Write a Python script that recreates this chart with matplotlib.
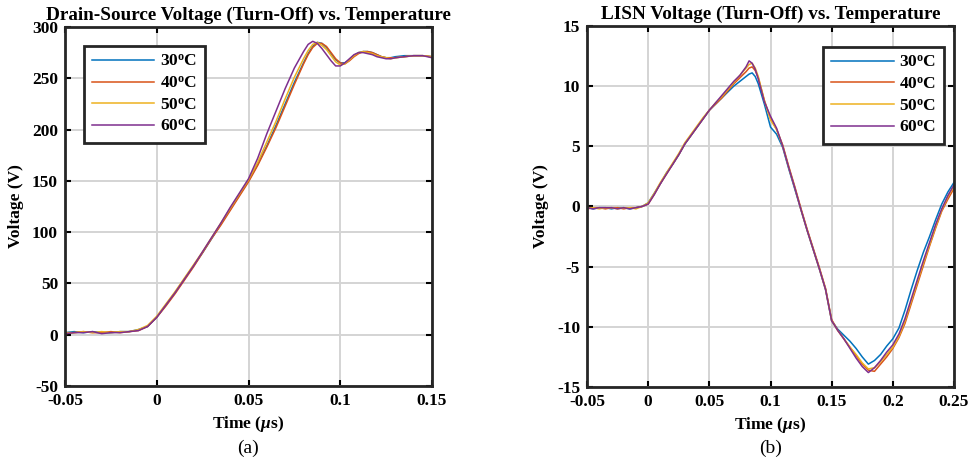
import matplotlib
matplotlib.use("Agg")
import matplotlib.pyplot as plt

plt.rcParams['font.family'] = ['Liberation Serif', 'DejaVu Serif']
plt.rcParams['font.weight'] = 'bold'
plt.rcParams['mathtext.fontset'] = 'custom'
plt.rcParams['mathtext.rm'] = 'Liberation Serif:bold'
plt.rcParams['mathtext.bf'] = 'Liberation Serif:bold'
plt.rcParams['mathtext.it'] = 'Liberation Serif:bold:italic'

# ---------------- data ----------------
series_labels = ["30$^{\\mathbf{o}}$C", "40$^{\\mathbf{o}}$C", "50$^{\\mathbf{o}}$C", "60$^{\\mathbf{o}}$C"]
colors = ["#0072BD", "#D95319", "#EDB120", "#7E2F8E"]

# (a) Drain-source voltage
t_a = [-0.05, -0.045, -0.04, -0.035, -0.03, -0.025, -0.02, -0.015, -0.01, -0.005,
       0.0, 0.005, 0.01, 0.015, 0.02, 0.025, 0.03, 0.035, 0.04, 0.045,
       0.05, 0.055, 0.06, 0.065, 0.07, 0.075, 0.08, 0.0825, 0.085, 0.0875,
       0.09, 0.0925, 0.095, 0.0975, 0.1, 0.1025, 0.105, 0.1075, 0.11, 0.1125,
       0.115, 0.1175, 0.12, 0.1225, 0.125, 0.1275, 0.13, 0.135, 0.14, 0.145, 0.15]
vds_30 = [2, 3, 2, 3, 2, 2, 3, 3, 5, 8,
          17, 29, 41, 54, 67, 80, 94, 108, 122, 136,
          150, 166, 184, 204, 225, 246, 265, 274, 281, 285,
          284, 280, 274, 268, 265, 265, 268, 272, 275, 276,
          276, 275, 273, 271, 270, 270, 271, 272, 272, 272, 271]
vds_40 = [1, 2, 3, 2, 2, 3, 2, 3, 4, 8,
          17, 28, 40, 53, 66, 80, 94, 107, 121, 135,
          149, 165, 183, 202, 223, 244, 264, 273, 280, 284,
          284, 281, 275, 269, 265, 264, 267, 271, 274, 276,
          276, 275, 273, 271, 270, 270, 270, 271, 272, 272, 271]
vds_50 = [2, 2, 3, 2, 3, 2, 3, 3, 5, 9,
          18, 30, 42, 55, 68, 81, 95, 109, 123, 137,
          151, 168, 188, 208, 230, 251, 269, 277, 283, 285,
          282, 278, 272, 266, 263, 264, 268, 272, 275, 276,
          275, 274, 272, 271, 270, 269, 270, 271, 272, 272, 271]
vds_60 = [1, 2, 2, 3, 1, 2, 2, 3, 4, 8,
          17, 29, 41, 54, 67, 81, 95, 109, 124, 138,
          152, 172, 196, 218, 240, 260, 276, 283, 286, 284,
          279, 273, 267, 262, 262, 265, 269, 273, 275, 275,
          274, 273, 271, 270, 269, 269, 270, 271, 272, 272, 270]

# (b) LISN voltage
t_b = [-0.05, -0.045, -0.04, -0.035, -0.03, -0.025, -0.02, -0.015, -0.01, -0.005,
       0.0, 0.005, 0.01, 0.015, 0.02, 0.025, 0.03, 0.035, 0.04, 0.045,
       0.05, 0.055, 0.06, 0.065, 0.07, 0.075, 0.08, 0.0825, 0.085, 0.0875,
       0.09, 0.095, 0.1, 0.105, 0.11, 0.115, 0.12, 0.125, 0.13, 0.135,
       0.14, 0.145, 0.15, 0.155, 0.16, 0.165, 0.17, 0.175, 0.18, 0.185,
       0.19, 0.195, 0.2, 0.205, 0.21, 0.215, 0.22, 0.225, 0.23, 0.235,
       0.24, 0.245, 0.25]
lisn_30 = [-0.1, -0.2, -0.1, -0.1, -0.2, -0.1, -0.1, -0.2, -0.1, 0.0,
           0.3, 1.1, 1.9, 2.8, 3.5, 4.3, 5.2, 5.9, 6.6, 7.3,
           8.0, 8.5, 9.0, 9.5, 10.0, 10.4, 10.8, 11.0, 11.1, 10.8,
           10.2, 8.5, 6.6, 6.0, 4.9, 3.1, 1.4, -0.3, -2.0, -3.6,
           -5.2, -6.9, -9.5, -10.2, -10.7, -11.2, -11.8, -12.5, -13.1, -12.8,
           -12.3, -11.6, -11.0, -10.1, -8.6, -6.9, -5.3, -3.8, -2.5, -1.1,
           0.2, 1.2, 2.0]
lisn_40 = [-0.2, -0.1, -0.1, -0.2, -0.1, -0.1, -0.2, -0.1, -0.1, 0.0,
           0.2, 1.0, 1.9, 2.7, 3.5, 4.3, 5.2, 5.9, 6.6, 7.3,
           8.0, 8.5, 9.0, 9.6, 10.2, 10.7, 11.2, 11.5, 11.6, 11.3,
           10.7, 8.8, 7.3, 6.4, 5.1, 3.3, 1.6, -0.2, -1.9, -3.5,
           -5.1, -6.8, -9.4, -10.3, -11.0, -11.7, -12.4, -13.1, -13.6, -13.7,
           -13.1, -12.5, -11.8, -10.9, -9.7, -8.1, -6.5, -4.9, -3.3, -1.8,
           -0.4, 0.6, 1.5]
lisn_50 = [-0.1, -0.1, -0.2, -0.1, -0.1, -0.2, -0.1, -0.1, -0.2, 0.0,
           0.3, 1.1, 2.0, 2.8, 3.6, 4.4, 5.3, 6.0, 6.7, 7.4,
           8.0, 8.6, 9.1, 9.7, 10.3, 10.9, 11.5, 11.8, 11.9, 11.5,
           10.8, 8.8, 7.2, 6.4, 5.0, 3.2, 1.5, -0.3, -2.0, -3.6,
           -5.2, -6.9, -9.5, -10.3, -11.0, -11.7, -12.3, -13.0, -13.5, -13.4,
           -12.9, -12.3, -11.7, -10.8, -9.5, -7.9, -6.3, -4.7, -3.2, -1.7,
           -0.3, 0.8, 1.7]
lisn_60 = [-0.1, -0.2, -0.1, -0.1, -0.1, -0.2, -0.1, -0.2, -0.1, 0.0,
           0.2, 1.0, 1.9, 2.7, 3.5, 4.3, 5.2, 5.9, 6.6, 7.3,
           8.0, 8.6, 9.2, 9.8, 10.4, 10.9, 11.6, 12.1, 11.9, 11.4,
           10.6, 8.7, 7.5, 6.5, 5.0, 3.2, 1.5, -0.3, -2.0, -3.6,
           -5.2, -6.9, -9.5, -10.3, -11.0, -11.8, -12.6, -13.3, -13.8, -13.4,
           -12.8, -12.1, -11.5, -10.6, -9.3, -7.7, -6.1, -4.5, -3.0, -1.5,
           -0.2, 0.9, 1.8]

xticks_a = [-0.05, 0, 0.05, 0.1, 0.15]
xticklabels_a = ["-0.05", "0", "0.05", "0.1", "0.15"]
yticks_a = [-50, 0, 50, 100, 150, 200, 250, 300]
xticks_b = [-0.05, 0, 0.05, 0.1, 0.15, 0.2, 0.25]
xticklabels_b = ["-0.05", "0", "0.05", "0.1", "0.15", "0.2", "0.25"]
yticks_b = [-15, -10, -5, 0, 5, 10, 15]

title_a = "Drain-Source Voltage (Turn-Off) vs. Temperature"
title_b = "LISN Voltage (Turn-Off) vs. Temperature"
xlabel = "Time ($\\mu$s)"
ylabel = "Voltage (V)"

# ---------------- figure ----------------
fig = plt.figure(figsize=(9.69, 4.57), dpi=100)
ax_a = fig.add_axes([0.0671, 0.1554, 0.3787, 0.7856])
ax_b = fig.add_axes([0.6058, 0.1532, 0.3787, 0.790])

TICK_FS = 12.5


def style(ax, xt, xtl, yt, xlim, ylim):
    ax.set_xlim(*xlim)
    ax.set_ylim(*ylim)
    ax.set_xticks(xt)
    ax.set_xticklabels(xtl)
    ax.set_yticks(yt)
    ax.set_yticklabels([str(v) for v in yt])
    ax.grid(True, color="#d4d4d4", linewidth=1.4)
    ax.set_axisbelow(True)
    ax.tick_params(direction="in", length=4, width=1.5, top=True, right=True,
                   labelsize=TICK_FS, pad=5)
    for lbl in ax.get_xticklabels() + ax.get_yticklabels():
        lbl.set_fontweight("bold")
    for sp in ax.spines.values():
        sp.set_linewidth(2.0)
        sp.set_color("#262626")
    ax.set_xlabel(xlabel, fontsize=12.5, fontweight="bold", labelpad=4)
    ax.set_ylabel(ylabel, fontsize=12.5, fontweight="bold", labelpad=6)


for vals, c, lab in zip([vds_30, vds_40, vds_50, vds_60], colors, series_labels):
    ax_a.plot(t_a, vals, color=c, linewidth=1.1, label=lab)
for vals, c, lab in zip([lisn_30, lisn_40, lisn_50, lisn_60], colors, series_labels):
    ax_b.plot(t_b, vals, color=c, linewidth=1.1, label=lab)

style(ax_a, xticks_a, xticklabels_a, yticks_a, (-0.05, 0.15), (-50, 300))
style(ax_b, xticks_b, xticklabels_b, yticks_b, (-0.05, 0.25), (-15, 15))

ax_a.set_title(title_a, fontsize=13.8, fontweight="bold", pad=5)
ax_b.set_title(title_b, fontsize=13.8, fontweight="bold", pad=5)

for ax, loc, anchor in [(ax_a, "upper left", (0.052, 0.947)),
                        (ax_b, "upper right", (0.973, 0.942))]:
    leg = ax.legend(loc=loc, bbox_to_anchor=anchor, borderaxespad=0,
                    fancybox=False, framealpha=1, edgecolor="#262626",
                    fontsize=12.5, handlelength=3.6, handletextpad=0.3,
                    labelspacing=0.32, borderpad=0.45)
    leg.get_frame().set_linewidth(2.0)
    for txt in leg.get_texts():
        txt.set_fontweight("bold")

fig.text(0.256, 0.0197, "(a)", fontsize=14, fontweight="normal", ha="center", va="center")
fig.text(0.795, 0.0197, "(b)", fontsize=14, fontweight="normal", ha="center", va="center")

fig.savefig("out.png", dpi=100)
